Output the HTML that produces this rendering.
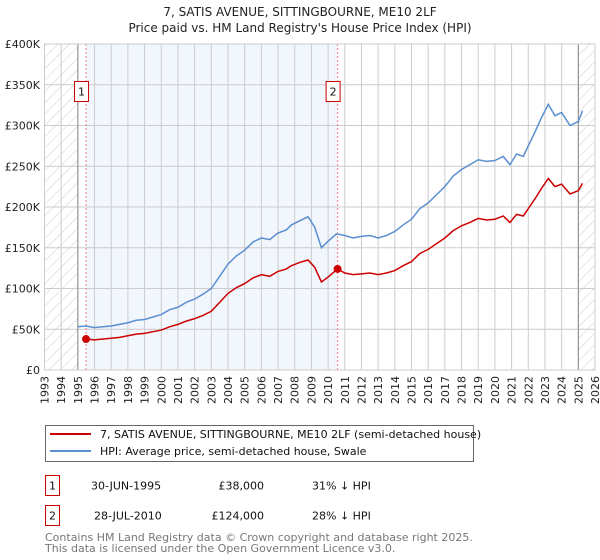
<!DOCTYPE html>
<html><head><meta charset="utf-8"><style>
body{margin:0;background:#fff;font-family:"DejaVu Sans","Liberation Sans",sans-serif;}
#wrap{position:relative;width:600px;height:560px;overflow:hidden;}
</style></head><body>
<div id="wrap">
<svg id="chart" width="600" height="560" xmlns="http://www.w3.org/2000/svg" font-family="DejaVu Sans, Liberation Sans, sans-serif">
<defs>
<pattern id="hatch" patternUnits="userSpaceOnUse" width="8" height="8" patternTransform="rotate(45)">
<line x1="0" y1="0" x2="0" y2="8" stroke="#ccc" stroke-width="1"/>
</pattern>
</defs>
<text x="300" y="16" text-anchor="middle" font-size="12" fill="#222">7, SATIS AVENUE, SITTINGBOURNE, ME10 2LF</text>
<text x="300" y="32" text-anchor="middle" font-size="12" fill="#222">Price paid vs. HM Land Registry's House Price Index (HPI)</text>
<g id="plot"></g>
<g>
<rect x="45.5" y="425.5" width="428" height="36" fill="#fff" stroke="#666"/>
<line x1="50" y1="434" x2="91" y2="434" stroke="#cc0000" stroke-width="2"/>
<text x="100" y="438" font-size="11" fill="#111">7, SATIS AVENUE, SITTINGBOURNE, ME10 2LF (semi-detached house)</text>
<line x1="50" y1="451" x2="91" y2="451" stroke="#5b8fd0" stroke-width="2"/>
<text x="100" y="455" font-size="11" fill="#111">HPI: Average price, semi-detached house, Swale</text>
</g>
<g font-size="11" fill="#111">
<rect x="45.5" y="475.5" width="14" height="20" fill="#fff" stroke="#cc0000"/>
<text x="52.5" y="489.5" text-anchor="middle">1</text>
<text x="91" y="489.5">30-JUN-1995</text>
<text x="264" y="489.5" text-anchor="end">£38,000</text>
<text x="312" y="489.5">31% ↓ HPI</text>
<rect x="45.5" y="505.5" width="14" height="20" fill="#fff" stroke="#cc0000"/>
<text x="52.5" y="519.5" text-anchor="middle">2</text>
<text x="94" y="519.5">28-JUL-2010</text>
<text x="264" y="519.5" text-anchor="end">£124,000</text>
<text x="312" y="519.5">28% ↓ HPI</text>
</g>
<text x="45" y="541" font-size="11" fill="#777">Contains HM Land Registry data © Crown copyright and database right 2025.</text>
<text x="45" y="552" font-size="11" fill="#777">This data is licensed under the Open Government Licence v3.0.</text>
</svg>
</div>
<script>
const hpiYears=[1995,1995.5,1996,1996.5,1997,1997.5,1998,1998.5,1999,1999.5,2000,2000.5,2001,2001.5,2002,2002.5,2003,2003.5,2004,2004.5,2005,2005.5,2006,2006.5,2007,2007.5,2007.8,2008.3,2008.8,2009.2,2009.6,2010,2010.5,2011,2011.5,2012,2012.5,2013,2013.5,2014,2014.5,2015,2015.5,2016,2016.5,2017,2017.5,2018,2018.5,2019,2019.5,2020,2020.5,2020.9,2021.3,2021.7,2022,2022.4,2022.8,2023.2,2023.6,2024,2024.5,2025,2025.25];
const hpiValues=[53,54,52,53,54,56,58,61,62,65,68,74,77,83,87,93,100,115,130,140,147,157,162,160,168,172,178,183,188,175,150,158,167,165,162,164,165,162,165,170,178,185,198,205,215,225,238,246,252,258,256,257,262,252,265,262,275,292,310,326,312,316,300,305,318];
const priceYears=[1995.49,1996,1996.5,1997,1997.5,1998,1998.5,1999,1999.5,2000,2000.5,2001,2001.5,2002,2002.5,2003,2003.5,2004,2004.5,2005,2005.5,2006,2006.5,2007,2007.5,2007.8,2008.3,2008.8,2009.2,2009.6,2010,2010.57,2011,2011.5,2012,2012.5,2013,2013.5,2014,2014.5,2015,2015.5,2016,2016.5,2017,2017.5,2018,2018.5,2019,2019.5,2020,2020.5,2020.9,2021.3,2021.7,2022,2022.4,2022.8,2023.2,2023.6,2024,2024.5,2025,2025.25];
const priceValues=[38,37,38,39,40,42,44,45,47,49,53,56,60,63,67,72,83,94,101,106,113,117,115,121,124,128,132,135,126,108,114,124,119,117,118,119,117,119,122,128,133,143,148,155,162,171,177,181,186,184,185,189,181,191,189,198,210,223,235,225,228,216,220,229];
const saleYears=[1995.49,2010.57];
const saleValues=[38,124];
const saleLabels=["1","2"];
const yTicks=[0,50,100,150,200,250,300,350,400];
const yTickLabels=["£0","£50K","£100K","£150K","£200K","£250K","£300K","£350K","£400K"];
const xStart=1993, xEnd=2026;
const X0=44.5,X1=595,Y0=370,Y1=44;
const sx=y=>X0+(y-xStart)*(X1-X0)/(xEnd-xStart);
const sy=v=>Y0-v*(Y0-Y1)/400;
const NS="http://www.w3.org/2000/svg";
const g=document.getElementById('plot');
function mk(t,a){const e=document.createElementNS(NS,t);for(const k in a)e.setAttribute(k,a[k]);g.appendChild(e);return e;}
let e;
e=mk('rect',{x:sx(saleYears[0]),y:Y1,width:sx(saleYears[1])-sx(saleYears[0]),height:Y0-Y1,fill:'#f2f6fd'});


e=mk('rect',{x:X0,y:Y1,width:sx(1995)-X0,height:Y0-Y1,fill:'url(#hatch)'});


e=mk('rect',{x:sx(2025),y:Y1,width:X1-sx(2025),height:Y0-Y1,fill:'url(#hatch)'});


for(let yr=xStart;yr<=xEnd;yr++){
 e=mk('line',{x1:sx(yr),x2:sx(yr),y1:Y1,y2:Y0,stroke:'#ccc','stroke-width':1});
 
 
 e=mk('text',{x:0,y:0,'font-size':11,fill:'#222','text-anchor':'end',transform:`translate(${sx(yr)+4},376) rotate(-90)`});
 e.textContent=String(yr);
 
 
}
yTicks.forEach((v,i)=>{
 e=mk('line',{x1:X0,x2:X1,y1:sy(v),y2:sy(v),stroke:'#ccc','stroke-width':1});
 
 
 e=mk('text',{x:40,y:sy(v)+4,'font-size':11,fill:'#222','text-anchor':'end'});
 e.textContent=yTickLabels[i];
 
 
});
e=mk('line',{x1:sx(1995),x2:sx(1995),y1:Y1,y2:Y0,stroke:'#888','stroke-width':1});


e=mk('line',{x1:sx(2025),x2:sx(2025),y1:Y1,y2:Y0,stroke:'#888','stroke-width':1});


saleYears.forEach((yr,i)=>{
 e=mk('line',{x1:sx(yr),x2:sx(yr),y1:Y1,y2:Y0,stroke:'#f08080','stroke-width':1,'stroke-dasharray':'2,2'});
 
 
});
e=mk('polyline',{points:hpiYears.map((y,i)=>sx(y)+','+sy(hpiValues[i])).join(' '),fill:'none',stroke:'#5b8fd0','stroke-width':1.5});


e=mk('polyline',{points:priceYears.map((y,i)=>sx(y)+','+sy(priceValues[i])).join(' '),fill:'none',stroke:'#cc0000','stroke-width':1.5});


saleYears.forEach((yr,i)=>{
 e=mk('circle',{cx:sx(yr),cy:sy(saleValues[i]),r:4,fill:'#cc0000'});
 
 
 e=mk('rect',{x:sx(yr)-11.5,y:81.5,width:14,height:20,fill:'#fff',stroke:'#cc0000'});
 
 
 e=mk('text',{x:sx(yr)-4.5,y:95.5,'font-size':11,fill:'#111','text-anchor':'middle'});
 e.textContent=saleLabels[i];
 
 
});
e=mk('rect',{x:X0,y:Y1,width:X1-X0,height:Y0-Y1,fill:'none',stroke:'#ccc'});


</script>
</body></html>
